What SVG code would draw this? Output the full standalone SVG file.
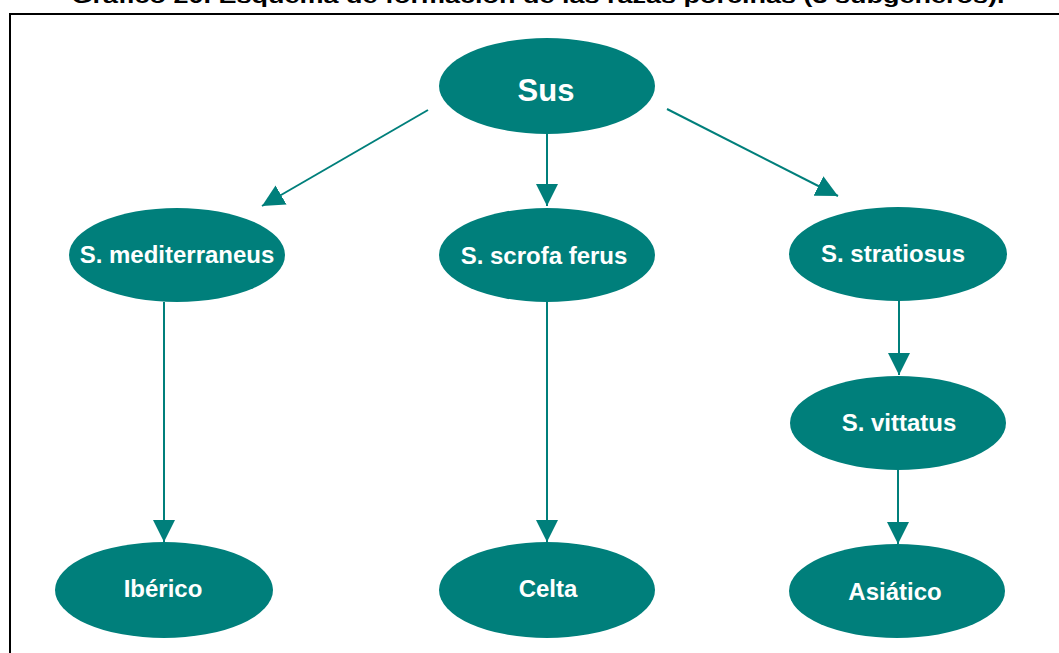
<svg xmlns="http://www.w3.org/2000/svg" width="1059" height="653" viewBox="0 0 1059 653">
<style>
.node{fill:#007F7B;}
.lbl{fill:#fff;font-family:"Liberation Sans",Arial,sans-serif;font-weight:bold;font-size:24px;text-anchor:middle;}
.conn line{stroke:#007F7B;stroke-width:2;}
.title{font-family:"Liberation Sans",Arial,sans-serif;font-weight:bold;font-size:21px;fill:#000;text-anchor:middle;}
</style>
<defs>
<marker id="ah" viewBox="0 0 22 22" refX="22" refY="11" markerWidth="22" markerHeight="22" markerUnits="userSpaceOnUse" orient="auto">
<path d="M0,0 L22,11 L0,22 Z" fill="#007F7B"/>
</marker>
</defs>
<rect width="1059" height="653" fill="#fff"/>
<text class="title" x="538" y="3" textLength="933" lengthAdjust="spacingAndGlyphs">Gráfico 20. Esquema de formación de las razas porcinas (3 subgéneros).</text>
<rect x="10" y="14" width="1060" height="660" fill="none" stroke="#000" stroke-width="2"/>
<g class="conn" id="connectors">
<line x1="428" y1="110" x2="262" y2="206" marker-end="url(#ah)"/>
<line x1="547" y1="134" x2="547" y2="206" marker-end="url(#ah)"/>
<line x1="667" y1="109" x2="838" y2="196" marker-end="url(#ah)"/>
<line x1="164" y1="302" x2="164" y2="542" marker-end="url(#ah)"/>
<line x1="547" y1="302" x2="547" y2="542" marker-end="url(#ah)"/>
<line x1="899" y1="300" x2="899" y2="375" marker-end="url(#ah)"/>
<line x1="898" y1="470" x2="898" y2="544" marker-end="url(#ah)"/>
</g>
<g id="sus"><ellipse class="node" cx="547" cy="86" rx="108" ry="48"/><text class="lbl" x="546" y="101" style="font-size:31px">Sus</text></g>
<g id="mediterraneus"><ellipse class="node" cx="177" cy="255" rx="108" ry="47"/><text class="lbl" x="177" y="263">S. mediterraneus</text></g>
<g id="scrofa"><ellipse class="node" cx="547" cy="255" rx="108" ry="47"/><text class="lbl" x="544" y="264">S. scrofa ferus</text></g>
<g id="stratiosus"><ellipse class="node" cx="898" cy="254" rx="109" ry="47"/><text class="lbl" x="893" y="262">S. stratiosus</text></g>
<g id="vittatus"><ellipse class="node" cx="898" cy="423" rx="108" ry="47"/><text class="lbl" x="899" y="431">S. vittatus</text></g>
<g id="iberico"><ellipse class="node" cx="164" cy="590" rx="109" ry="48"/><text class="lbl" x="163" y="597">Ibérico</text></g>
<g id="celta"><ellipse class="node" cx="547" cy="590" rx="108" ry="48"/><text class="lbl" x="548" y="597">Celta</text></g>
<g id="asiatico"><ellipse class="node" cx="897" cy="591" rx="108" ry="47"/><text class="lbl" x="895" y="600">Asiático</text></g>
</svg>
